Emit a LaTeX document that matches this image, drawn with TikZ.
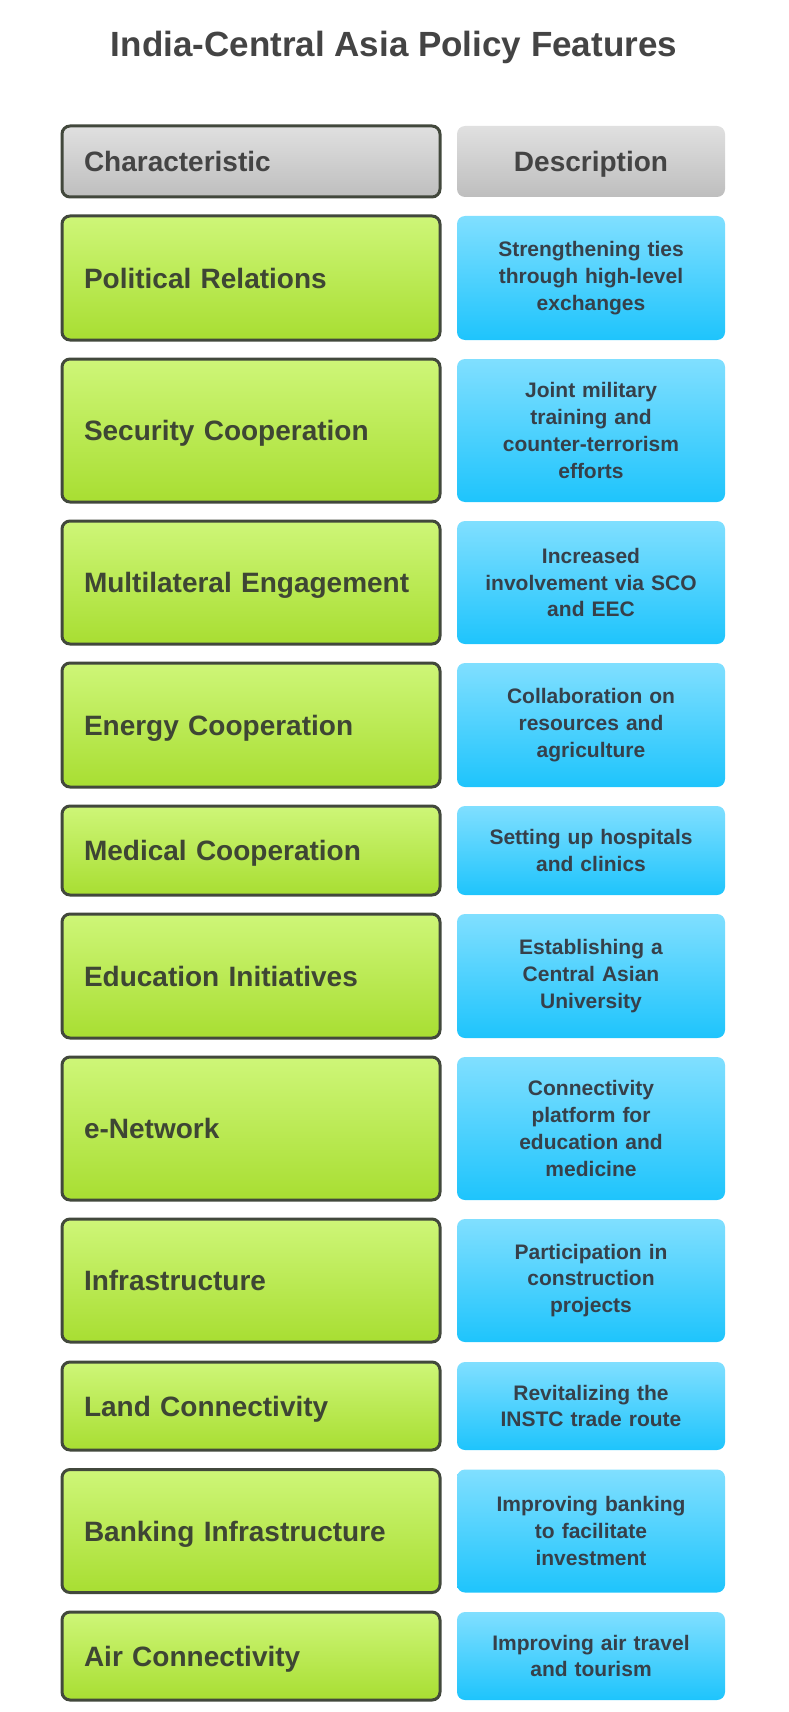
\documentclass[tikz,border=0pt]{standalone}
\usepackage{fontspec}
\setmainfont{Liberation Sans}
\definecolor{greentop}{RGB}{206,246,120}
\definecolor{greenbot}{RGB}{168,222,50}
\definecolor{bluetop}{RGB}{128,223,255}
\definecolor{bluebot}{RGB}{30,196,252}
\definecolor{graytop}{RGB}{224,224,224}
\definecolor{graybot}{RGB}{190,190,190}
\definecolor{boxline}{RGB}{66,72,60}
\definecolor{chartext}{RGB}{62,70,52}
\definecolor{desctext}{RGB}{54,64,74}
\definecolor{titletext}{RGB}{68,68,68}
\tikzset{
	charbox/.style={draw=boxline,line width=1.5pt,rounded corners=4pt,top color=greentop,bottom color=greenbot,minimum width=189pt,text width=167pt,align=left,inner sep=0pt,text height=10pt,text depth=0pt,font=\bfseries\fontsize{14}{16}\selectfont,text=chartext},
	descbox/.style={rounded corners=4pt,top color=bluetop,bottom color=bluebot,minimum width=134pt,text width=126pt,align=center,inner sep=0pt,font=\bfseries\fontsize{10.5}{13.4}\selectfont,text=desctext},
	headbox/.style={top color=graytop,bottom color=graybot,text=titletext}
}
\begin{document}
\begin{tikzpicture}[x=0.5pt,y=-0.5pt]
	\useasboundingbox (0,0) rectangle (788,1712);
	\node[anchor=base,font=\bfseries\fontsize{17.5}{20}\selectfont,text=titletext] (title) at (394,57) {India-Central Asia Policy Features};
	\node[charbox,headbox,minimum height=35.5pt] (c0) at (251,161.5) {Characteristic};
	\node[descbox,headbox,minimum height=35.5pt,text height=10pt,text depth=0pt,font=\bfseries\fontsize{14}{16}\selectfont] (d0) at (591,161.5) {Description};
	\node[charbox,minimum height=62pt] (c1) at (251,278) {Political Relations};
	\node[descbox,minimum height=62pt] (d1) at (591,278) {Strengthening ties\\through high-level\\exchanges};
	\node[charbox,minimum height=71.5pt] (c2) at (251,430.5) {Security Cooperation};
	\node[descbox,minimum height=71.5pt] (d2) at (591,430.5) {Joint military\\training and\\counter-terrorism\\efforts};
	\node[charbox,minimum height=61.5pt] (c3) at (251,582.5) {Multilateral Engagement};
	\node[descbox,minimum height=61.5pt] (d3) at (591,582.5) {Increased\\involvement via SCO\\and EEC};
	\node[charbox,minimum height=62pt] (c4) at (251,725) {Energy Cooperation};
	\node[descbox,minimum height=62pt] (d4) at (591,725) {Collaboration on\\resources and\\agriculture};
	\node[charbox,minimum height=44.5pt] (c5) at (251,850.5) {Medical Cooperation};
	\node[descbox,minimum height=44.5pt] (d5) at (591,850.5) {Setting up hospitals\\and clinics};
	\node[charbox,minimum height=62pt] (c6) at (251,976) {Education Initiatives};
	\node[descbox,minimum height=62pt] (d6) at (591,976) {Establishing a\\Central Asian\\University};
	\node[charbox,minimum height=71.5pt] (c7) at (251,1128.5) {e-Network};
	\node[descbox,minimum height=71.5pt] (d7) at (591,1128.5) {Connectivity\\platform for\\education and\\medicine};
	\node[charbox,minimum height=61.5pt] (c8) at (251,1280.5) {Infrastructure};
	\node[descbox,minimum height=61.5pt] (d8) at (591,1280.5) {Participation in\\construction\\projects};
	\node[charbox,minimum height=44pt] (c9) at (251,1406) {Land Connectivity};
	\node[descbox,minimum height=44pt] (d9) at (591,1406) {Revitalizing the\\INSTC trade route};
	\node[charbox,minimum height=61.5pt] (c10) at (251,1531) {Banking Infrastructure};
	\node[descbox,minimum height=61.5pt] (d10) at (591,1531) {Improving banking\\to facilitate\\investment};
	\node[charbox,minimum height=44pt] (c11) at (251,1656) {Air Connectivity};
	\node[descbox,minimum height=44pt] (d11) at (591,1656) {Improving air travel\\and tourism};
\end{tikzpicture}
\end{document}
